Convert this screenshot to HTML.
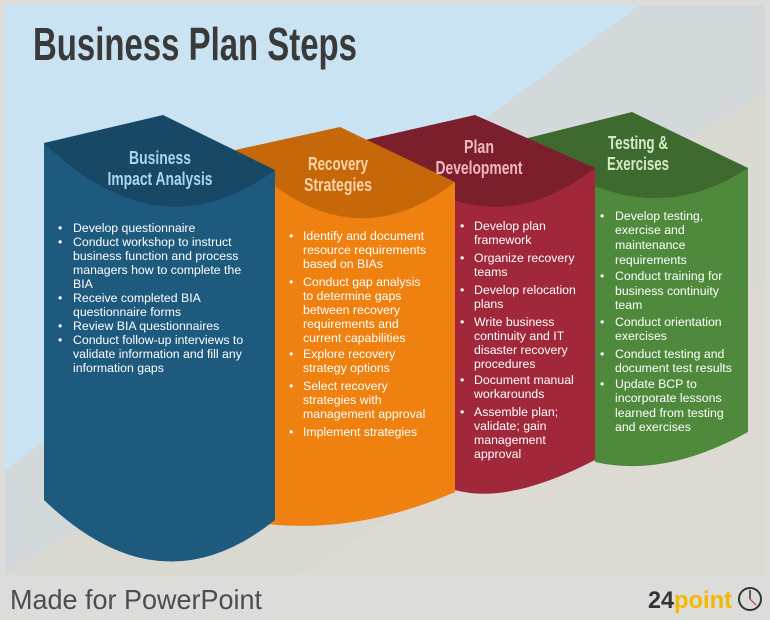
<!DOCTYPE html>
<html><head><meta charset="utf-8"><style>
html,body{margin:0;padding:0;background:#dcdcda;}
svg{display:block}
.t{font-family:"Liberation Sans",sans-serif;font-size:12.3px;fill:#fff}
.h{font-family:"Liberation Sans Narrow","Liberation Sans",sans-serif;font-size:18px;font-weight:bold;text-anchor:middle}
</style></head><body>
<svg width="770" height="620" viewBox="0 0 770 620">
<rect x="0" y="0" width="770" height="620" fill="#dcdcda"/>
<rect x="5" y="5" width="760" height="570" fill="#c9e3f3"/>
<polygon points="5,470 640,5 765,5 765,575 5,575" fill="#d3d9da"/>
<polygon points="5,575 765,92 765,575" fill="#dcdad3"/>
<polygon points="5,575 200,450 400,320 765,92 765,280 300,575" fill="#d9d8d1"/>
<!-- green -->
<path d="M595,150 L595,462 Q665,478 748,432 L748,168 Z" fill="#4f8a3c"/>
<path d="M520,140 L632,112 L748,168 Q640,240 520,140 Z" fill="#3e6a2f"/>
<!-- red -->
<path d="M455,150 L455,490 Q508,505 595,460 L595,168 Z" fill="#a0283a"/>
<path d="M365,140 L475,115 L595,168 Q480,258 365,140 Z" fill="#7c1f2c"/>
<!-- orange -->
<path d="M240,150 L240,520 Q345,540 455,492 L455,182 Z" fill="#ee810f"/>
<path d="M235,150 L340,127 L455,182 Q345,268 235,150 Z" fill="#c6670a"/>
<!-- blue -->
<path d="M44,143 L44,500 Q160,612 275,520 L275,170 Z" fill="#1d5a7e"/>
<path d="M44,143 L163,115 L275,170 Q160,255 44,143 Z" fill="#174866"/>

<text x="33" y="60" font-family="Liberation Sans Narrow,Liberation Sans,sans-serif" font-weight="bold" font-size="46" fill="#3a3a3a" textLength="324" lengthAdjust="spacingAndGlyphs">Business Plan Steps</text>

<g class="h">
<text x="160" y="164" fill="#a9d5f0" textLength="62" lengthAdjust="spacingAndGlyphs">Business</text>
<text x="160" y="185" fill="#a9d5f0" textLength="105" lengthAdjust="spacingAndGlyphs">Impact Analysis</text>
<text x="338" y="170" fill="#fcd4a6" textLength="60" lengthAdjust="spacingAndGlyphs">Recovery</text>
<text x="338" y="191" fill="#fcd4a6" textLength="68" lengthAdjust="spacingAndGlyphs">Strategies</text>
<text x="479" y="153" fill="#f2b8c2" textLength="30" lengthAdjust="spacingAndGlyphs">Plan</text>
<text x="479" y="174" fill="#f2b8c2" textLength="87" lengthAdjust="spacingAndGlyphs">Development</text>
<text x="638" y="149" fill="#d4ecc4" textLength="60" lengthAdjust="spacingAndGlyphs">Testing &amp;</text>
<text x="638" y="170" fill="#d4ecc4" textLength="62" lengthAdjust="spacingAndGlyphs">Exercises</text>
</g>

<g class="t">
<text x="58" y="232">•</text><text x="73" y="232">Develop questionnaire</text>
<text x="58" y="246">•</text><text x="73" y="246">Conduct workshop to instruct</text>
<text x="73" y="260">business function and process</text>
<text x="73" y="274">managers how to complete the</text>
<text x="73" y="288">BIA</text>
<text x="58" y="302">•</text><text x="73" y="302">Receive completed BIA</text>
<text x="73" y="316">questionnaire forms</text>
<text x="58" y="330">•</text><text x="73" y="330">Review BIA questionnaires</text>
<text x="58" y="344">•</text><text x="73" y="344">Conduct follow-up interviews to</text>
<text x="73" y="358">validate information and fill any</text>
<text x="73" y="372">information gaps</text>
<text x="289" y="240">•</text><text x="303" y="240">Identify and document</text>
<text x="303" y="254">resource requirements</text>
<text x="303" y="268">based on BIAs</text>
<text x="289" y="286">•</text><text x="303" y="286">Conduct gap analysis</text>
<text x="303" y="300">to determine gaps</text>
<text x="303" y="314">between recovery</text>
<text x="303" y="328">requirements and</text>
<text x="303" y="342">current capabilities</text>
<text x="289" y="358">•</text><text x="303" y="358">Explore recovery</text>
<text x="303" y="372">strategy options</text>
<text x="289" y="390">•</text><text x="303" y="390">Select recovery</text>
<text x="303" y="404">strategies with</text>
<text x="303" y="418">management approval</text>
<text x="289" y="436">•</text><text x="303" y="436">Implement strategies</text>
<text x="460" y="230">•</text><text x="474" y="230">Develop plan</text>
<text x="474" y="244">framework</text>
<text x="460" y="262">•</text><text x="474" y="262">Organize recovery</text>
<text x="474" y="276">teams</text>
<text x="460" y="294">•</text><text x="474" y="294">Develop relocation</text>
<text x="474" y="308">plans</text>
<text x="460" y="326">•</text><text x="474" y="326">Write business</text>
<text x="474" y="340">continuity and IT</text>
<text x="474" y="354">disaster recovery</text>
<text x="474" y="368">procedures</text>
<text x="460" y="384">•</text><text x="474" y="384">Document manual</text>
<text x="474" y="398">workarounds</text>
<text x="460" y="416">•</text><text x="474" y="416">Assemble plan;</text>
<text x="474" y="430">validate; gain</text>
<text x="474" y="444">management</text>
<text x="474" y="458">approval</text>
<text x="600" y="220">•</text><text x="615" y="220">Develop testing,</text>
<text x="615" y="234">exercise and</text>
<text x="615" y="249">maintenance</text>
<text x="615" y="264">requirements</text>
<text x="600" y="280">•</text><text x="615" y="280">Conduct training for</text>
<text x="615" y="295">business continuity</text>
<text x="615" y="309">team</text>
<text x="600" y="326">•</text><text x="615" y="326">Conduct orientation</text>
<text x="615" y="340">exercises</text>
<text x="600" y="358">•</text><text x="615" y="358">Conduct testing and</text>
<text x="615" y="372">document test results</text>
<text x="600" y="388">•</text><text x="615" y="388">Update BCP to</text>
<text x="615" y="402">incorporate lessons</text>
<text x="615" y="417">learned from testing</text>
<text x="615" y="431">and exercises</text>
</g>

<text x="10" y="609" font-family="Liberation Sans Narrow,Liberation Sans,sans-serif" font-size="28" fill="#4d4d4d" textLength="252" lengthAdjust="spacingAndGlyphs">Made for PowerPoint</text>
<text x="648" y="608" font-family="Liberation Sans Narrow,Liberation Sans,sans-serif" font-weight="bold" font-size="24" fill="#333" textLength="26" lengthAdjust="spacingAndGlyphs">24</text>
<text x="674" y="608" font-family="Liberation Sans Narrow,Liberation Sans,sans-serif" font-weight="bold" font-size="24" fill="#f5b800" textLength="58" lengthAdjust="spacingAndGlyphs">point</text>
<circle cx="750" cy="599" r="11" fill="none" stroke="#333" stroke-width="2"/>
<line x1="750" y1="599" x2="750" y2="590" stroke="#333" stroke-width="1.5"/>
<line x1="750" y1="599" x2="756" y2="605" stroke="#c33" stroke-width="1.2"/>
</svg>
</body></html>
